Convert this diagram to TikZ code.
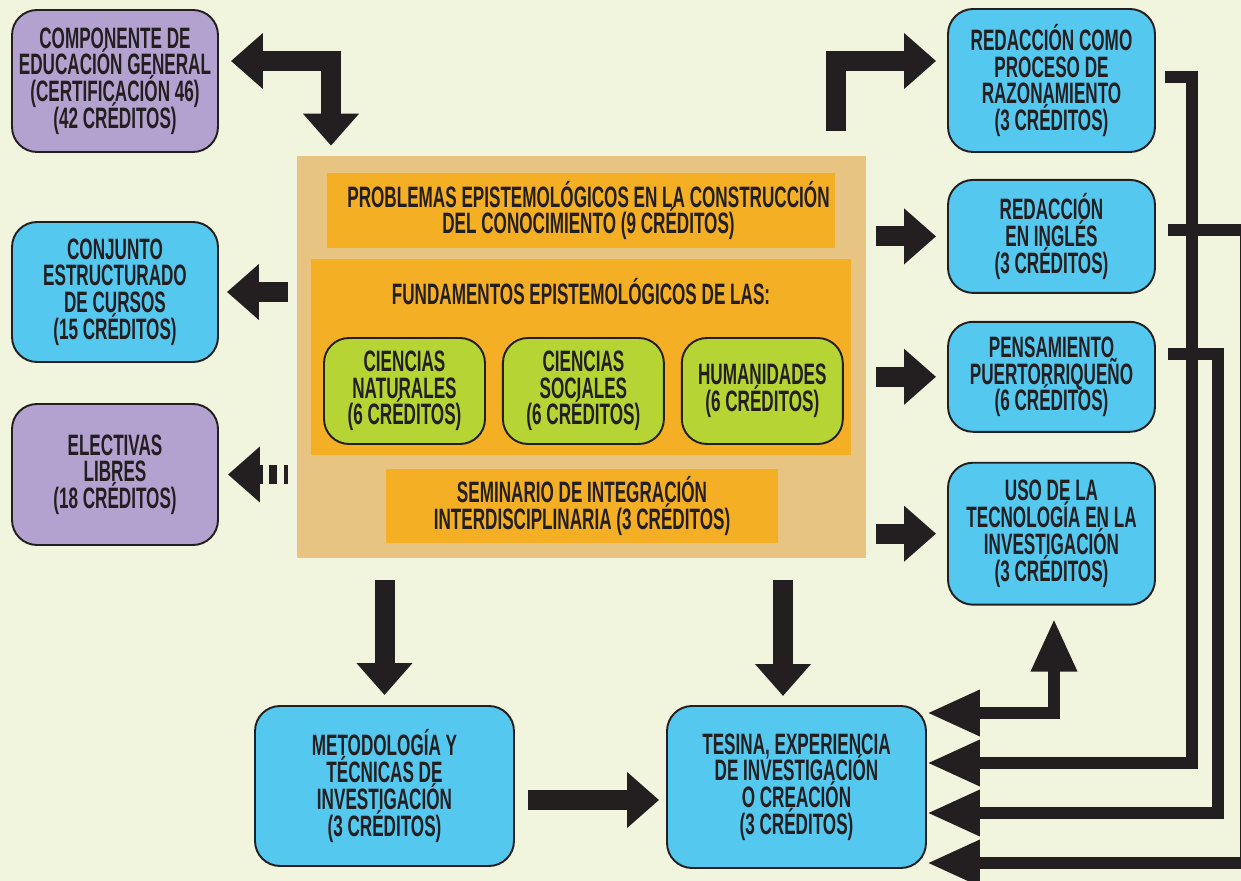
\documentclass[tikz,border=0pt]{standalone}
\usepackage{fontspec}
\setmainfont[FakeStretch=0.58]{Liberation Sans}
\usetikzlibrary{arrows.meta, positioning}

\definecolor{paper}{HTML}{F1F5DE}
\definecolor{ink}{HTML}{231F20}
\definecolor{skyb}{HTML}{55C8F0}
\definecolor{lilac}{HTML}{B3A2D0}
\definecolor{lime}{HTML}{B6D433}
\definecolor{amber}{HTML}{F4AF24}
\definecolor{sand}{HTML}{E8C482}

\newcommand{\boxfont}{\bfseries\fontsize{16.8pt}{15.2pt}\selectfont\setlength{\lineskiplimit}{-30pt}}

\tikzset{
  bigtip/.tip={Triangle[length=0.64cm, width=1.08cm]},
  thintip/.tip={Triangle[length=1.06cm, width=0.86cm]}
}

\begin{document}
\begin{tikzpicture}[
  x=0.02cm, y=-0.02cm,
  every node/.style={font=\boxfont, text=ink, align=center, inner sep=0pt},
  box/.style={draw=ink, line width=1.1pt, rounded corners=0.5cm},
  bluebox/.style={box, fill=skyb},
  lilacbox/.style={box, fill=lilac, minimum width=4.12cm},
  limebox/.style={box, fill=lime, minimum width=3.22cm, minimum height=2.12cm},
  block/.style={fill=amber},
  bigarrow/.style={-bigtip, line width=0.4cm, draw=ink},
  twoway/.style={bigtip-bigtip, line width=0.4cm, draw=ink},
  thinarrow/.style={-thintip, line width=0.25cm, draw=ink},
  thintwoway/.style={thintip-thintip, line width=0.25cm, draw=ink}
]
\useasboundingbox (0,0) rectangle (1241,881);
\clip (0,0) rectangle (1241,881);
\fill[paper] (0,0) rectangle (1241,881);

% left column
\node[lilacbox, minimum height=2.84cm] (gened) at (115,81) {COMPONENTE DE\\EDUCACIÓN GENERAL\\(CERTIFICACIÓN 46)\\(42 CRÉDITOS)};
\node[bluebox, minimum width=4.12cm, minimum height=2.8cm] (conj) at (115,292) {CONJUNTO\\ESTRUCTURADO\\DE CURSOS\\(15 CRÉDITOS)};
\node[lilacbox, minimum height=2.82cm] (elect) at (115,474.5) {ELECTIVAS\\LIBRES\\(18 CRÉDITOS)};

% core block
\node[fill=sand, minimum width=11.38cm, minimum height=8.04cm] (core) at (581.5,357) {};
\node[block, minimum width=10.16cm, minimum height=1.5cm] (prob) at (581,210.5) {\hspace*{0.3cm}PROBLEMAS EPISTEMOLÓGICOS EN LA CONSTRUCCIÓN\\\hspace*{0.3cm}DEL CONOCIMIENTO (9 CRÉDITOS)};
\node[block, minimum width=10.82cm, minimum height=3.94cm] (fund) at (581,357) {};
\node (fundtitle) at ([yshift=-0.66cm]fund.north) {FUNDAMENTOS EPISTEMOLÓGICOS DE LAS:};
\node[limebox] (cn) at (404.5,391) {CIENCIAS\\NATURALES\\(6 CRÉDITOS)};
\node[limebox, right=0.32cm of cn] (cs) {CIENCIAS\\SOCIALES\\(6 CRÉDITOS)};
\node[limebox, right=0.32cm of cs] (hum) {HUMANIDADES\\(6 CRÉDITOS)};
\node[block, minimum width=7.84cm, minimum height=1.48cm] (sem) at (582,506) {SEMINARIO DE INTEGRACIÓN\\INTERDISCIPLINARIA (3 CRÉDITOS)};

% right column
\node[bluebox, minimum width=4.14cm, minimum height=2.86cm] (r1) at (1051.5,80.5) {REDACCIÓN COMO\\PROCESO DE\\RAZONAMIENTO\\(3 CRÉDITOS)};
\node[bluebox, minimum width=4.14cm, minimum height=2.26cm, below=0.52cm of r1] (r2) {REDACCIÓN\\EN INGLÉS\\(3 CRÉDITOS)};
\node[bluebox, minimum width=4.14cm, minimum height=2.2cm, below=0.54cm of r2] (r3) {PENSAMIENTO\\PUERTORRIQUEÑO\\(6 CRÉDITOS)};
\node[bluebox, minimum width=4.14cm, minimum height=2.84cm, below=0.58cm of r3] (r4) {USO DE LA\\TECNOLOGÍA EN LA\\INVESTIGACIÓN\\(3 CRÉDITOS)};

% bottom row
\node[bluebox, minimum width=5.18cm, minimum height=3.2cm] (meth) at (384.5,786) {METODOLOGÍA Y\\TÉCNICAS DE\\INVESTIGACIÓN\\(3 CRÉDITOS)};
\node[bluebox, minimum width=5.18cm, minimum height=3.24cm] (tesina) at (796.5,787) {TESINA, EXPERIENCIA\\DE INVESTIGACIÓN\\O CREACIÓN\\(3 CRÉDITOS)};

% turning points
\coordinate (gl) at (331,61);
\coordinate (tr) at (836,61);
\coordinate (dr) at (783,706);
\coordinate (mt) at (0,800);
\coordinate (v1) at (1054,713);
\coordinate (c2a) at (1192,77);
\coordinate (c2b) at (1192,763);
\coordinate (c3a) at (1218,354);
\coordinate (c3b) at (1218,813);
\coordinate (c4a) at (1246,230);
\coordinate (c4b) at (1246,863);

% thick arrows
\draw[twoway, shorten <=0.24cm, shorten >=0.2cm] (gened.east |- gl) -- (gl) -- (gl |- core.north);
\draw[bigarrow, shorten <=0.18cm, shorten >=0.16cm] (core.west |- conj.east) -- (conj.east);
\draw[bigarrow, dash pattern=on 0.08cm off 0.14cm on 0.16cm off 0.12cm on 0.3cm, shorten <=0.18cm, shorten >=0.18cm] (core.west |- elect.east) -- (elect.east);
\draw[bigarrow, shorten <=0.5cm, shorten >=0.22cm] (tr |- core.north) -- (tr) -- (r1.west |- tr);
\foreach \r in {r2, r3, r4}
  \draw[bigarrow, shorten <=0.2cm, shorten >=0.22cm] (core.east |- \r.west) -- (\r.west);
\draw[bigarrow, shorten <=0.44cm, shorten >=0.2cm] (core.south -| meth.north) -- (meth.north);
\draw[bigarrow, shorten <=0.44cm, shorten >=0.2cm] (core.south -| dr) -- (dr);
\draw[bigarrow, shorten <=0.26cm, shorten >=0.14cm] (meth.east |- mt) -- (tesina.west |- mt);

% thin connectors on the right
\draw[thintwoway, shorten >=0.26cm] (tesina.east |- v1) -- (v1) -- (v1 |- r4.south);
\draw[thinarrow, shorten <=0.18cm] (r1.east |- c2a) -- (c2a) -- (c2b) -- (tesina.east |- c2b);
\draw[thinarrow, shorten <=0.24cm] (r3.east |- c3a) -- (c3a) -- (c3b) -- (tesina.east |- c3b);
\draw[thinarrow, shorten <=0.24cm] (r2.east |- c4a) -- (c4a) -- (c4b) -- (tesina.east |- c4b);
\end{tikzpicture}
\end{document}
